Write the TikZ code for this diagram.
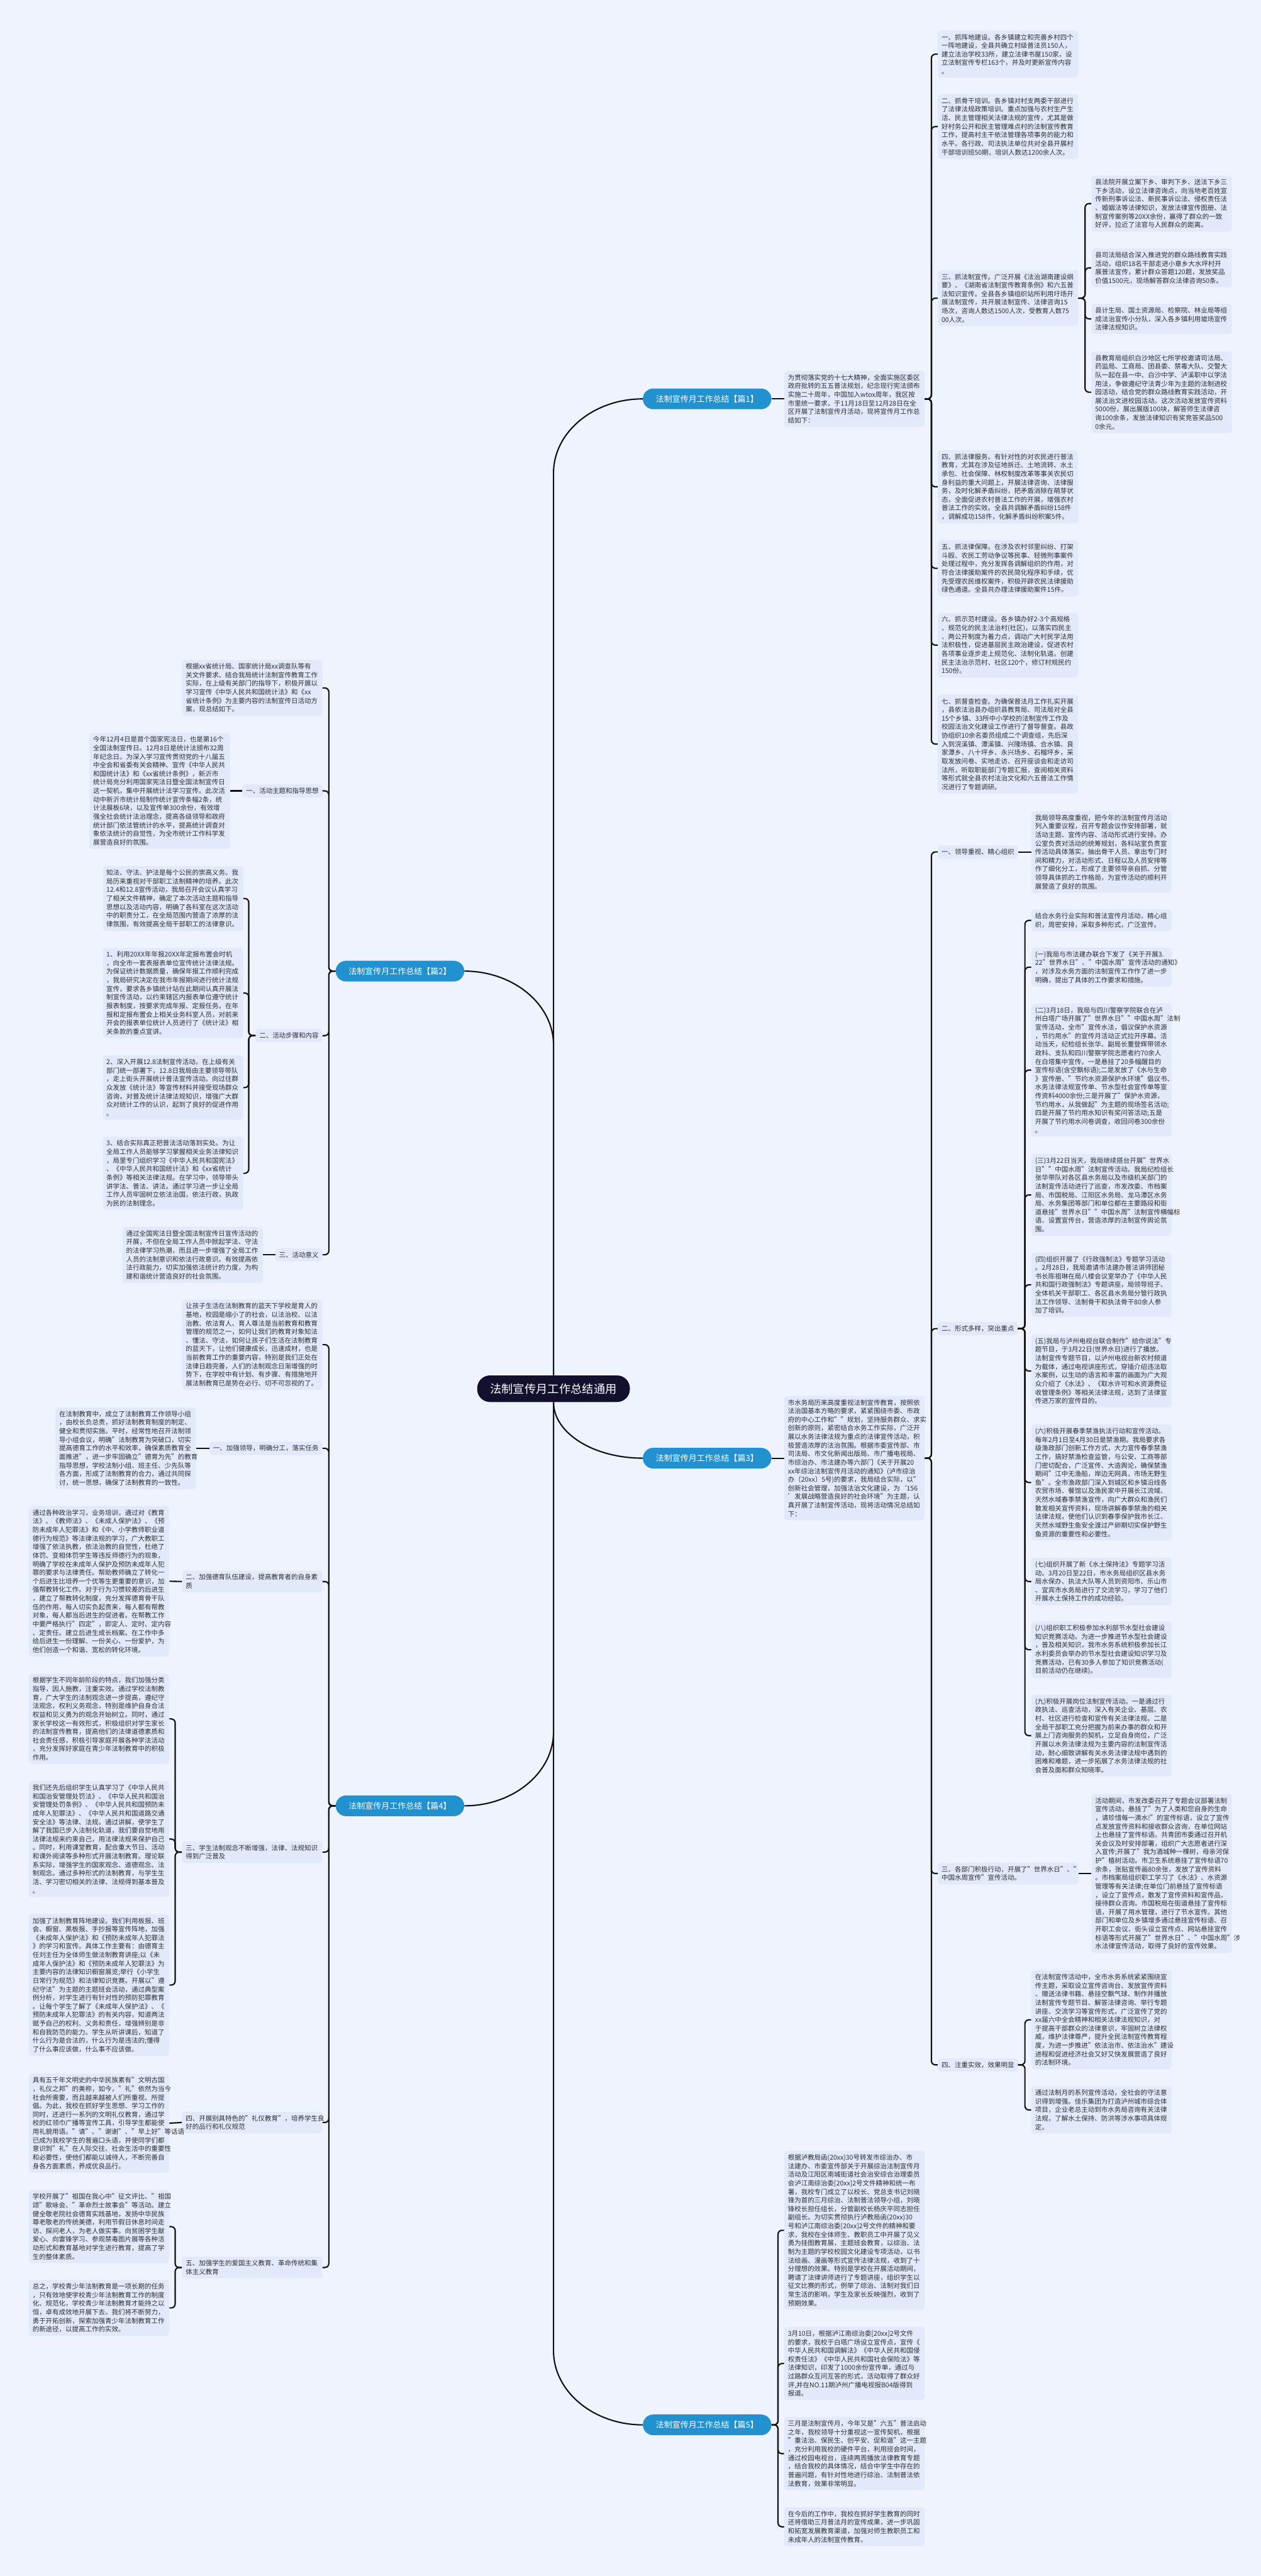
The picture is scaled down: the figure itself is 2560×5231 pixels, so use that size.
\documentclass[tikz,border=0pt]{standalone}
\usepackage{fontspec}
\setmainfont{Noto Sans CJK SC}
\definecolor{bgc}{HTML}{EEF3FD}
\definecolor{boxc}{HTML}{E1E9FA}
\definecolor{txtc}{HTML}{2E2E2E}
\definecolor{brc}{HTML}{2191CF}
\definecolor{rootc}{HTML}{130F2E}
\definecolor{linec}{HTML}{111111}
\tikzset{
  txt/.style={fill=boxc, rounded corners=3pt, text=txtc, font=\fontsize{6.7pt}{8.7pt}\selectfont, align=left, text width=135pt, inner xsep=3.75pt, inner ysep=3.5pt},
  lbl/.style={fill=boxc, rounded corners=3pt, text=txtc, font=\fontsize{6.7pt}{8.7pt}\selectfont, inner xsep=3.75pt, inner ysep=3.5pt},
  br/.style={fill=brc, text=white, rounded corners=10.5pt, minimum width=130.5pt, minimum height=21pt, inner sep=2pt, font=\fontsize{8.3pt}{10pt}\selectfont},
  root/.style={fill=rootc, text=white, rounded corners=13pt, minimum width=155pt, minimum height=27pt, inner sep=2pt, font=\fontsize{11.7pt}{14pt}\selectfont},
  conn/.style={draw=linec, line width=1.35pt, rounded corners=4pt},
  mainconn/.style={draw=linec, line width=1.35pt},
}
\begin{document}
\begin{tikzpicture}[x=0.5pt,y=-0.5pt]
\path[fill=bgc] (0,0) rectangle (2560,5231);
\useasboundingbox (0,0) rectangle (2560,5231);

% root and branches
\node[root] (c) at (1124,2820) {法制宣传月工作总结通用};
\node[br, anchor=west] (p1) at (1305,810) {法制宣传月工作总结【篇1】};
\node[br, anchor=east] (p2) at (943,1972) {法制宣传月工作总结【篇2】};
\node[br, anchor=west] (p3) at (1305,2961) {法制宣传月工作总结【篇3】};
\node[br, anchor=east] (p4) at (943,3667) {法制宣传月工作总结【篇4】};
\node[br, anchor=west] (p5) at (1305,4924) {法制宣传月工作总结【篇5】};

\draw[mainconn] (c.north) -- (1124,960) .. controls (1124,878) and (1205,810) .. (p1.west);
\draw[mainconn] (c.north) -- (1124,2122) .. controls (1124,2040) and (1043,1972) .. (p2.east);
\draw[mainconn] (c.south) .. controls (1124,2910) and (1205,2961) .. (p3.west);
\draw[mainconn] (c.south) -- (1124,3517) .. controls (1124,3599) and (1043,3667) .. (p4.east);
\draw[mainconn] (c.south) -- (1124,4774) .. controls (1124,4856) and (1205,4924) .. (p5.west);

%%%%%%%%%%%%%%%% 篇1
\node[txt, anchor=west] (a0) at (1592,810) {为贯彻落实党的十七大精神，全面实施区委区\\政府批转的五五普法规划，纪念现行宪法颁布\\实施二十周年，中国加入wtox周年，我区按\\市里统一要求，于11月18日至12月28日在全\\区开展了法制宣传月活动，现将宣传月工作总\\结如下：};
\node[txt, anchor=west] (b1) at (1904,110) {一、抓阵地建设。各乡镇建立和完善乡村四个\\一阵地建设，全县共确立村级普法员150人，\\建立法治学校33所，建立法律书屋150家，设\\立法制宣传专栏163个，并及时更新宣传内容\\。};
\node[txt, anchor=west] (b2) at (1904,257) {二、抓骨干培训。各乡镇对村支两委干部进行\\了法律法规政策培训。重点加强与农村生产生\\活、民主管理相关法律法规的宣传，尤其是做\\好村务公开和民主管理难点村的法制宣传教育\\工作，提高村主干依法管理各项事务的能力和\\水平。各行政、司法执法单位共对全县开展村\\干部培训班50期，培训人数达1200余人次。};
\node[txt, anchor=west] (b3) at (1904,605.5) {三、抓法制宣传。广泛开展《法治湖南建设纲\\要》、《湖南省法制宣传教育条例》和六五普\\法知识宣传。全县各乡镇组织站所利用圩场开\\展法制宣传，共开展法制宣传、法律咨询15\\场次，咨询人数达1500人次，受教育人数75\\00人次。};
\node[txt, anchor=west] (c1) at (2216,413.5) {县法院开展立案下乡、审判下乡、送法下乡三\\下乡活动，设立法律咨询点，向当地老百姓宣\\传新刑事诉讼法、新民事诉讼法、侵权责任法\\、婚姻法等法律知识，发放法律宣传图册、法\\制宣传案例等20XX余份，赢得了群众的一致\\好评，拉近了法官与人民群众的距离。};
\node[txt, anchor=west] (c2) at (2216,544) {县司法局结合深入推进党的群众路线教育实践\\活动，组织18名干部走进小章乡大水坪村开\\展普法宣传，累计群众答题120题，发放奖品\\价值1500元，现场解答群众法律咨询50条。};
\node[txt, anchor=west] (c3) at (2216,647.5) {县计生局、国土资源局、检察院、林业局等组\\成法治宣传小分队，深入各乡镇利用墟场宣传\\法律法规知识。};
\node[txt, anchor=west] (c4) at (2216,796.5) {县教育局组织白沙地区七所学校邀请司法局、\\药监局、工商局、团县委、禁毒大队、交警大\\队一起在县一中、白沙中学、泸溪职中以学法\\用法，争做遵纪守法青少年为主题的法制进校\\园活动，结合党的群众路线教育实践活动，开\\展法治文进校园活动。这次活动发放宣传资料\\5000份，展出展版100块，解答师生法律咨\\询100余条，发放法律知识有奖竞答奖品500\\0余元。};
\node[txt, anchor=west] (b4) at (1904,988.5) {四、抓法律服务。有针对性的对农民进行普法\\教育，尤其在涉及征地拆迁、土地流转、水土\\承包、社会保障、林权制度改革等事关农民切\\身利益的重大问题上，开展法律咨询、法律服\\务，及时化解矛盾纠纷，把矛盾消除在萌芽状\\态，全面促进农村普法工作的开展，增强农村\\普法工作的实效。全县共调解矛盾纠纷158件\\，调解成功158件，化解矛盾纠纷积案5件。};
\node[txt, anchor=west] (b5) at (1904,1154) {五、抓法律保障。在涉及农村邻里纠纷、打架\\斗殴、农民工劳动争议等民事、轻微刑事案件\\处理过程中，充分发挥各调解组织的作用，对\\符合法律援助案件的农民简化程序和手续，优\\先受理农民维权案件，积极开辟农民法律援助\\绿色通道。全县共办理法律援助案件15件。};
\node[txt, anchor=west] (b6) at (1904,1310) {六、抓示范村建设。各乡镇办好2-3个高规格\\、规范化的民主法治村(社区)，以落实四民主\\、两公开制度为着力点，调动广大村民学法用\\法积极性，促进基层民主政治建设，促进农村\\各项事业逐步走上规范化、法制化轨道。创建\\民主法治示范村、社区120个，修订村规民约\\150份。};
\node[txt, anchor=west] (b7) at (1904,1511) {七、抓督查检查。为确保普法月工作扎实开展\\，县依法治县办组织县教育局、司法局对全县\\15个乡镇、33所中小学校的法制宣传工作及\\校园法治文化建设工作进行了督导督查。县政\\协组织10余名委员组成二个调查组，先后深\\入到浣溪镇、潭溪镇、兴隆场镇、合水镇、良\\家潭乡、八十坪乡、永兴场乡、石榴坪乡，采\\取发放问卷、实地走访、召开座谈会和走访司\\法所，听取职能部门专题汇报，查阅相关资料\\等形式就全县农村法治文化和六五普法工作情\\况进行了专题调研。};

\draw[conn] (p1.east) -- (a0.west);
\foreach \n in {b1,b2,b3,b4,b5,b6,b7} \draw[conn] (a0.east) -- ++(13.5,0) |- (\n.west);
\foreach \n in {c1,c2,c3,c4} \draw[conn] (b3.east) -- ++(13.5,0) |- (\n.west);

%%%%%%%%%%%%%%%% 篇3
\node[txt, anchor=west] (d0) at (1592,2961) {市水务局历来高度重视法制宣传教育，按照依\\法治国基本方略的要求，紧紧围绕市委、市政\\府的中心工作和""规划，坚持服务群众、求实\\创新的原则，紧密结合水务工作实际，广泛开\\展以水务法律法规为重点的法律宣传活动，积\\极营造浓厚的法治氛围。根据市委宣传部、市\\司法局、市文化新闻出版局、市广播电视局、\\市综治办、市法建办等六部门《关于开展20\\xx年综治法制宣传月活动的通知》(泸市综治\\办〔20xx〕5号)的要求，我局结合实际，以"\\创新社会管理，加强法治文化建设，为‘156\\’发展战略营造良好的社会环境"为主题，认\\真开展了法制宣传活动，现将活动情况总结如\\下：};
\node[lbl, anchor=west] (d1) at (1904,1730) {一、领导重视、精心组织};
\node[txt, anchor=west] (d1c) at (2094,1730) {我局领导高度重视，把今年的法制宣传月活动\\列入重要议程，召开专题会议作安排部署，就\\活动主题、宣传内容、活动形式进行安排。办\\公室负责对活动的统筹规划，各科站室负责宣\\传活动具体落实，抽出骨干人员、拿出专门时\\间和精力，对活动形式、日程以及人员安排等\\作了细化分工，形成了主要领导亲自抓、分管\\领导具体抓的工作格局，为宣传活动的顺利开\\展营造了良好的氛围。};
\node[lbl, anchor=west] (d2) at (1904,2698) {二、形式多样，突出重点};
\node[txt, anchor=west] (e1) at (2094,1869) {结合水务行业实际和普法宣传月活动，精心组\\织，周密安排，采取多种形式，广泛宣传。};
\node[txt, anchor=west] (e2) at (2094,1964) {(一)我局与市法建办联合下发了《关于开展3.\\22"世界水日"、"中国水周"宣传活动的通知》\\，对涉及水务方面的法制宣传工作作了进一步\\明确，提出了具体的工作要求和措施。};
\node[txt, anchor=west] (e3) at (2094,2173) {(二)3月18日，我局与四川警察学院联合在泸\\州白塔广场开展了"世界水日""中国水周"法制\\宣传活动，全市"宣传水法，倡议保护水资源\\，节约用水"的宣传月活动正式拉开序幕。活\\动当天，纪检组长张华、副局长董登辉带领水\\政科、支队和四川警察学院志愿者约70余人\\在白塔集中宣传。一是悬挂了20多幅醒目的\\宣传标语(含空飘标语);二是发放了《水与生命\\》宣传册、"节约水资源保护水环境"倡议书、\\水务法律法规宣传单、节水型社会宣传单等宣\\传资料4000余份;三是开展了"保护水资源，\\节约用水，从我做起"为主题的现场签名活动;\\四是开展了节约用水知识有奖问答活动;五是\\开展了节约用水问卷调查，收回问卷300余份\\。};
\node[txt, anchor=west] (e4) at (2094,2426.5) {(三)3月22日当天，我局继续搭台开展"世界水\\日""中国水周"法制宣传活动。我局纪检组长\\张华带队对各区县水务局以及市级机关部门的\\法制宣传活动进行了巡查，市发改委、市档案\\局、市国税局、江阳区水务局、龙马潭区水务\\局、水务集团等部门和单位都在主要路段和街\\道悬挂"世界水日""中国水周"法制宣传横幅标\\语、设置宣传台，营造浓厚的法制宣传舆论氛\\围。};
\node[txt, anchor=west] (e5) at (2094,2609) {(四)组织开展了《行政强制法》专题学习活动\\。2月28日，我局邀请市法建办普法讲师团秘\\书长陈祖琳在局八楼会议室举办了《中华人民\\共和国行政强制法》专题讲座，局领导班子、\\全体机关干部职工、各区县水务局分管行政执\\法工作领导、法制骨干和执法骨干80余人参\\加了培训。};
\node[txt, anchor=west] (e6) at (2094,2784) {(五)我局与泸州电视台联合制作"给你说法"专\\题节目，于3月22日(世界水日)进行了播放。\\法制宣传专题节目，以泸州电视台新农村频道\\为载体，通过电视讲座形式，穿插介绍违法取\\水案例，以生动的语言和丰富的画面为广大观\\众介绍了《水法》、《取水许可和水资源费征\\收管理条例》等相关法律法规，达到了法律宣\\传进万家的宣传目的。};
\node[txt, anchor=west] (e7) at (2094,3010.5) {(六)积极开展春季禁渔执法行动和宣传活动。\\每年2月1日至4月30日是禁渔期。我局要求各\\级渔政部门创新工作方式，大力宣传春季禁渔\\工作，搞好禁渔检查监管，与公安、工商等部\\门密切配合，广泛宣传、大造舆论，确保禁渔\\期间"江中无渔船，岸边无网具，市场无野生\\鱼"。全市渔政部门深入到城区和乡镇沿线各\\农贸市场、餐馆以及渔民家中开展长江流域、\\天然水域春季禁渔宣传，向广大群众和渔民们\\散发相关宣传资料，现场讲解春季禁渔的相关\\法律法规，使他们认识到春季保护我市长江、\\天然水域野生鱼安全渡过产卵期切实保护野生\\鱼资源的重要性和必要性。};
\node[txt, anchor=west] (e8) at (2094,3211.5) {(七)组织开展了新《水土保持法》专题学习活\\动。3月20日至22日，市水务局组织区县水务\\局水保办、执法大队等人员到资阳市、乐山市\\、宜宾市水务局进行了交流学习，学习了他们\\开展水土保持工作的成功经验。};
\node[txt, anchor=west] (e9) at (2094,3350) {(八)组织职工积极参加水利部节水型社会建设\\知识竞赛活动。为进一步推进节水型社会建设\\，普及相关知识，我市水务系统积极参加长江\\水利委员会举办的节水型社会建设知识学习及\\竞赛活动，已有30多人参加了知识竞赛活动(\\目前活动仍在继续)。};
\node[txt, anchor=west] (e10) at (2094,3524.5) {(九)积极开展岗位法制宣传活动。一是通过行\\政执法、巡查活动，深入有关企业、基层、农\\村、社区进行检查和宣传有关法律法规。二是\\全局干部职工充分把握为前来办事的群众和开\\展上门咨询服务的契机，立足自身岗位，广泛\\开展以水务法律法规为主要内容的法制宣传活\\动，耐心细致讲解有关水务法律法规中遇到的\\困难和难题，进一步拓展了水务法律法规的社\\会普及面和群众知晓率。};
\node[txt, anchor=west] (d3) at (1904,3804.5) {三、各部门积极行动，开展了"世界水日"、"\\中国水周宣传"宣传活动。};
\node[txt, anchor=west] (d3c) at (2216,3804.5) {活动期间，市发改委召开了专题会议部署法制\\宣传活动，悬挂了"为了人类和您自身的生命\\，请珍惜每一滴水!"的宣传标语，设立了宣传\\点发放宣传资料和接收群众咨询，在单位网站\\上也悬挂了宣传标语。共青团市委通过召开机\\关会议及时安排部署，组织广大志愿者进行深\\入宣传;开展了"我为酒城种一棵树，母亲河保\\护"植树活动。市卫生系统悬挂了宣传标语70\\余条，张贴宣传画80余张，发放了宣传资料\\。市档案局组织职工学习了《水法》、水资源\\管理等有关法律;在单位门前悬挂了宣传标语\\，设立了宣传点，散发了宣传资料和宣传品，\\接待群众咨询。市国税局在街道悬挂了宣传标\\语，开展了用水管理，进行了节水宣传。其他\\部门和单位及乡镇增多通过悬挂宣传标语、召\\开职工会议、街头设立宣传点、网站悬挂宣传\\标语等形式开展了"世界水日"、"中国水周"涉\\水法律宣传活动，取得了良好的宣传效果。};
\node[lbl, anchor=west] (d4) at (1904,4193) {四、注重实效，效果明显};
\node[txt, anchor=west] (f1) at (2094,4101.5) {在法制宣传活动中，全市水务系统紧紧围绕宣\\传主题，采取设立宣传咨询台、发放宣传资料\\、赠送法律书籍、悬挂空飘气球、制作并播放\\法制宣传专题节目、解答法律咨询、举行专题\\讲座、交流学习等宣传形式，广泛宣传了党的\\xx届六中全会精神和相关法律法规知识，对\\于提高干部群众的法律意识，牢固树立法律权\\威，维护法律尊严，提升全民法制宣传教育程\\度，为进一步推进"依法治市、依法治水"建设\\进程和促进经济社会又好又快发展营造了良好\\的法制环境。};
\node[txt, anchor=west] (f2) at (2094,4284.5) {通过法制月的系列宣传活动，全社会的守法意\\识得到增强。佳乐集团为打造泸州城市综合体\\项目，企业老总主动到市水务局咨询有关法律\\法规，了解水土保持、防洪等涉水事项具体规\\定。};

\draw[conn] (p3.east) -- (d0.west);
\foreach \n in {d1,d2,d3,d4} \draw[conn] (d0.east) -- ++(13.5,0) |- (\n.west);
\draw[conn] (d1.east) -- (d1c.west);
\foreach \n in {e1,e2,e3,e4,e5,e6,e7,e8,e9,e10} \draw[conn] (d2.east) -- ++(14,0) |- (\n.west);
\draw[conn] (d3.east) -- (d3c.west);
\foreach \n in {f1,f2} \draw[conn] (d4.east) -- ++(14,0) |- (\n.west);

%%%%%%%%%%%%%%%% 篇5
\node[txt, anchor=west] (g1) at (1592,4529) {根据泸教局函(20xx)30号转发市综治办、市\\法建办、市委宣传部关于开展综治法制宣传月\\活动及江阳区南城街道社会治安综合治理委员\\会泸江南综治委[20xx]2号文件精神和统一布\\署，我校专门成立了以校长、党总支书记刘晓\\锋为首的三月综治、法制普法领导小组，刘晓\\锋校长担任组长，分管副校长杨庆平同志担任\\副组长。为切实贯彻执行泸教局函(20xx)30\\号和泸江南综治委[20xx]2号文件的精神和要\\求，我校在全体师生、教职员工中开展了见义\\勇为挂图教育展，主题班会教育，以综治、法\\制为主题的学校校园文化建设专项活动，以书\\法绘画、漫画等形式宣传法律法规，收到了十\\分理想的效果。特别是学校在开展活动期间，\\聘请了法律讲师进行了专题讲座，组织学生以\\征文比赛的形式，例举了综治、法制对我们日\\常生活的影响，学生及家长反映强烈，收到了\\预期效果。};
\node[txt, anchor=west] (g2) at (1592,4799.5) {3月10日，根据泸江南综治委[20xx]2号文件\\的要求，我校于白塔广场设立宣传点，宣传《\\中华人民共和国调解法》《中华人民共和国侵\\权责任法》《中华人民共和国社会保险法》等\\法律知识，印发了1000余份宣传单，通过与\\过路群众互问互答的形式，活动取得了群众好\\评,并在NO.11期泸州广播电视报B04版得到\\报道。};
\node[txt, anchor=west] (g3) at (1592,4982.5) {三月是法制宣传月，今年又是"六五"普法启动\\之年，我校领导十分重视这一宣传契机，根据\\"重法治、保民生、创平安、促和谐"这一主题\\，充分利用我校的硬件平台，利用班会时间，\\通过校园电视台，连续两周播放法律教育专题\\，结合我校的具体情况，结合中学生中存在的\\普遍问题，有针对性地进行综治、法制普法依\\法教育，效果非常明显。};
\node[txt, anchor=west] (g4) at (1592,5131) {在今后的工作中，我校在抓好学生教育的同时\\还将借助三月普法月的宣传成果，进一步巩固\\和拓宽发展教育渠道，加强对师生教职员工和\\未成年人的法制宣传教育。};
\foreach \n in {g1,g2,g3,g4} \draw[conn] (p5.east) -- ++(13,0) |- (\n.west);

%%%%%%%%%%%%%%%% 篇2
\node[txt, anchor=east] (h0) at (655,1397) {根据xx省统计局、国家统计局xx调查队等有\\关文件要求、结合我局统计法制宣传教育工作\\实际，在上级有关部门的指导下，积极开展以\\学习宣传《中华人民共和国统计法》和《xx\\省统计条例》为主要内容的法制宣传日活动方\\案，现总结如下。};
\node[lbl, anchor=east] (h1) at (655,1606) {一、活动主题和指导思想};
\node[txt, anchor=east] (h1c) at (467,1606) {今年12月4日是首个国家宪法日，也是第16个\\全国法制宣传日。12月8日是统计法颁布32周\\年纪念日。为深入学习宣传贯彻党的十八届五\\中全会和省委有关会精神、宣传《中华人民共\\和国统计法》和《xx省统计条例》，新沂市\\统计局充分利用国家宪法日暨全国法制宣传日\\这一契机，集中开展统计法学习宣传。此次活\\动中新沂市统计局制作统计宣传条幅2条，统\\计法展板6块，以及宣传单300余份，有效增\\强全社会统计法治理念，提高各级领导和政府\\统计部门依法管统计的水平，提高统计调查对\\象依法统计的自觉性，为全市统计工作科学发\\展营造良好的氛围。};
\node[lbl, anchor=east] (h2) at (655,2103) {二、活动步骤和内容};
\node[txt, anchor=east] (k1) at (494,1824.5) {知法、守法、护法是每个公民的崇高义务。我\\局历来重视对干部职工法制精神的培养。此次\\12.4和12.8宣传活动，我局召开会议认真学习\\了相关文件精神，确定了本次活动主题和指导\\思想以及活动内容，明确了各科室在这次活动\\中的职责分工，在全局范围内营造了浓厚的法\\律氛围，有效提高全局干部职工的法律意识。};
\node[txt, anchor=east] (k2) at (494,2016.5) {1、利用20XX年年报20XX年定报布置会时机\\，向全市一套表报表单位宣传统计法律法规。\\为保证统计数据质量，确保年报工作顺利完成\\，我局研究决定在我市年报期间进行统计法规\\宣传，要求各乡镇统计站在此期间认真开展法\\制宣传活动，以约束辖区内报表单位遵守统计\\报表制度，按要求完成年报、定报任务。在年\\报和定报布置会上相关业务科室人员，对前来\\开会的报表单位统计人员进行了《统计法》相\\关条款的重点宣讲。};
\node[txt, anchor=east] (k3) at (494,2208.5) {2、深入开展12.8法制宣传活动。在上级有关\\部门统一部署下，12.8日我局由主要领导带队\\，走上街头开展统计普法宣传活动。向过往群\\众发放《统计法》等宣传材料并接受现场群众\\咨询，对普及统计法律法规知识，增强广大群\\众对统计工作的认识，起到了良好的促进作用\\。};
\node[txt, anchor=east] (k4) at (494,2382.5) {3、结合实际真正把普法活动落到实处。为让\\全局工作人员能够学习掌握相关业务法律知识\\，局里专门组织学习《中华人民共和国宪法》\\、《中华人民共和国统计法》和《xx省统计\\条例》等相关法律法规。在学习中，领导带头\\讲学法、普法、讲法。通过学习进一步让全局\\工作人员牢固树立依法治国，依法行政，执政\\为民的法制理念。};
\node[lbl, anchor=east] (h3) at (655,2548) {三、活动意义};
\node[txt, anchor=east] (h3c) at (534,2548) {通过全国宪法日暨全国法制宣传日宣传活动的\\开展，不但在全局工作人员中掀起学法、守法\\的法律学习热潮，而且进一步增强了全局工作\\人员的法制意识和依法行政意识。有效提高依\\法行政能力，切实加强依法统计的力度，为构\\建和谐统计营造良好的社会氛围。};

\foreach \n in {h0,h1,h2,h3} \draw[conn] (p2.west) -- ++(-13.5,0) |- (\n.east);
\draw[conn] (h1.west) -- (h1c.east);
\foreach \n in {k1,k2,k3,k4} \draw[conn] (h2.west) -- ++(-13.5,0) |- (\n.east);
\draw[conn] (h3.west) -- (h3c.east);

%%%%%%%%%%%%%%%% 篇4
\node[txt, anchor=east] (m0) at (655,2730.5) {让孩子生活在法制教育的蓝天下学校是育人的\\基地，校园是缩小了的社会，以法治校、以法\\治教、依法育人、育人尊法是当前教育和教育\\管理的规范之一，如何让我们的教育对象知法\\、懂法、守法，如何让孩子们生活在法制教育\\的蓝天下，让他们健康成长，迅速成材，也是\\当前教育工作的重要内容，特别是我们正处在\\法律日趋完善，人们的法制观念日渐增强的时\\势下，在学校中有计划、有步骤、有措施地开\\展法制教育已是势在必行、切不可忽视的了。};
\node[lbl, anchor=east] (m1) at (655,2941) {一、加强领导，明确分工，落实任务};
\node[txt, anchor=east] (m1c) at (398,2941) {在法制教育中，成立了法制教育工作领导小组\\，由校长负总责，抓好法制教育制度的制定、\\健全和贯彻实施。平时，经常性地召开法制领\\导小组会议，明确"法制教育为突破口，切实\\提高德育工作的水平和效率，确保素质教育全\\面推进"，进一步牢固确立"德育为先"的教育\\指导思想，学校法制小组、班主任、少先队等\\各方面，形成了法制教育的合力，通过共同探\\讨，统一思想，确保了法制教育的一致性。};
\node[txt, anchor=east] (m2) at (655,3211.5) {二、加强德育队伍建设，提高教育者的自身素\\质};
\node[txt, anchor=east] (m2c) at (344,3211) {通过各种政治学习，业务培训，通过对《教育\\法》、《教师法》、《未成人保护法》、《预\\防未成年人犯罪法》和《中、小学教师职业道\\德行为规范》等法律法规的学习，广大教职工\\增强了依法执教，依法治教的自觉性，杜绝了\\体罚、变相体罚学生等违反师德行为的现象，\\明确了学校在未成年人保护及预防未成年人犯\\罪的要求与法律责任。帮助教师确立了转化一\\个后进生比培养一个优等生更重要的意识，加\\强帮教转化工作。对于行为习惯较差的后进生\\，建立了帮教转化制度，充分发挥德育骨干队\\伍的作用，每人切实负起责来，每人都有帮教\\对象，每人都当后进生的促进者。在帮教工作\\中要严格执行"四定"，即定人、定时、定内容\\、定责任。建立后进生成长档案。在工作中多\\给后进生一份理解、一份关心、一份爱护，为\\他们创造一个和谐、宽松的转化环境。};
\node[txt, anchor=east] (m3) at (655,3761) {三、学生法制观念不断增强，法律、法规知识\\得到广泛普及};
\node[txt, anchor=east] (n1) at (344,3490.5) {根据学生不同年龄阶段的特点，我们加强分类\\指导，因人施教，注重实效。通过学校法制教\\育，广大学生的法制观念进一步提高，遵纪守\\法观念，权利义务观念，特别是维护自身合法\\权益和见义勇为的观念开始树立。同时，通过\\家长学校这一有效形式，积极组织对学生家长\\的法制宣传教育，提高他们的法律道德素质和\\社会责任感，积极引导家庭开展各种学法活动\\，充分发挥好家庭在青少年法制教育中的积极\\作用。};
\node[txt, anchor=east] (n2) at (344,3734.5) {我们还先后组织学生认真学习了《中华人民共\\和国治安管理处罚法》、《中华人民共和国治\\安管理处罚条例》、《中华人民共和国预防未\\成年人犯罪法》、《中华人民共和国道路交通\\安全法》等法律、法规。通过讲解，使学生了\\解了我国已步入法制化轨道，我们要自觉地用\\法律法规来约束自己，用法律法规来保护自己\\。同时，利用课堂教育，配合重大节日、活动\\和课外阅读等多种形式开展法制教育。理论联\\系实际，增强学生的国家观念、道德观念、法\\制观念。通过多种形式的法制教育，与学生生\\活、学习密切相关的法律、法规得到基本普及\\。};
\node[txt, anchor=east] (n3) at (344,4031) {加强了法制教育阵地建设。我们利用板报、班\\会、橱窗、黑板报、手抄报等宣传阵地，加强\\《未成年人保护法》和《预防未成年人犯罪法\\》的学习和宣传。具体工作主要有：由德育主\\任刘主任为全体师生做法制教育讲座;以《未\\成年人保护法》和《预防未成年人犯罪法》为\\主要内容的法律知识橱窗展览;举行《小学生\\日常行为规范》和法律知识竞赛。开展以"遵\\纪守法"为主题的主题班会活动，通过典型案\\例分析，对学生进行有针对性的预防犯罪教育\\。让每个学生了解了《未成年人保护法》、《\\预防未成年人犯罪法》的有关内容，知道两法\\赋予自己的权利、义务和责任，增强辨别是非\\和自我防范的能力。学生从听讲课后，知道了\\什么行为是合法的，什么行为是违法的;懂得\\了什么事应该做，什么事不应该做。};
\node[txt, anchor=east] (m4) at (655,4310) {四、开展别具特色的"礼仪教育"，培养学生良\\好的品行和礼仪规范};
\node[txt, anchor=east] (m4c) at (344,4311.5) {具有五千年文明史的中华民族素有"文明古国\\，礼仪之邦"的美称，如今，"礼"依然为当今\\社会所需要，而且越来越被人们所重视、所提\\倡。为此，我校在抓好学生思想、学习工作的\\同时，还进行一系列的文明礼仪教育，通过学\\校的红领巾广播等宣传工具，引导学生都能使\\用礼貌用语。"请"、"谢谢"、"早上好"等话语\\已成为我校学生的普遍口头语，并使同学们都\\意识到"礼"在人际交往、社会生活中的重要性\\和必要性，使他们都能以诚待人，不断完善自\\身各方面素质，养成优良品行。};
\node[txt, anchor=east] (m5) at (655,4604.5) {五、加强学生的爱国主义教育、革命传统和集\\体主义教育};
\node[txt, anchor=east] (o1) at (344,4521.5) {学校开展了"祖国在我心中"征文评比、"祖国\\颂"歌咏会、"革命烈士故事会"等活动。建立\\健全敬老院社会德育实践基地，发扬中华民族\\尊老敬老的传统美德，利用节假日休息时间走\\访、探问老人，为老人做实事。向贫困学生献\\爱心、向雷锋学习、参观禁毒图片展等各种活\\动形式和教育基地对学生进行教育，提高了学\\生的整体素质。};
\node[txt, anchor=east] (o2) at (344,4686.5) {总之，学校青少年法制教育是一项长期的任务\\，只有效地使学校青少年法制教育工作的制度\\化、规范化，学校青少年法制教育才能持之以\\恒，卓有成效地开展下去。我们将不断努力，\\勇于开拓创新，探索加强青少年法制教育工作\\的新途径，以提高工作的实效。};

\foreach \n in {m0,m1,m2,m3,m4,m5} \draw[conn] (p4.west) -- ++(-13.5,0) |- (\n.east);
\draw[conn] (m1.west) -- (m1c.east);
\draw[conn] (m2.west) -- (m2c.east);
\foreach \n in {n1,n2,n3} \draw[conn] (m3.west) -- ++(-13.5,0) |- (\n.east);
\draw[conn] (m4.west) -- (m4c.east);
\foreach \n in {o1,o2} \draw[conn] (m5.west) -- ++(-13.5,0) |- (\n.east);
\end{tikzpicture}
\end{document}
